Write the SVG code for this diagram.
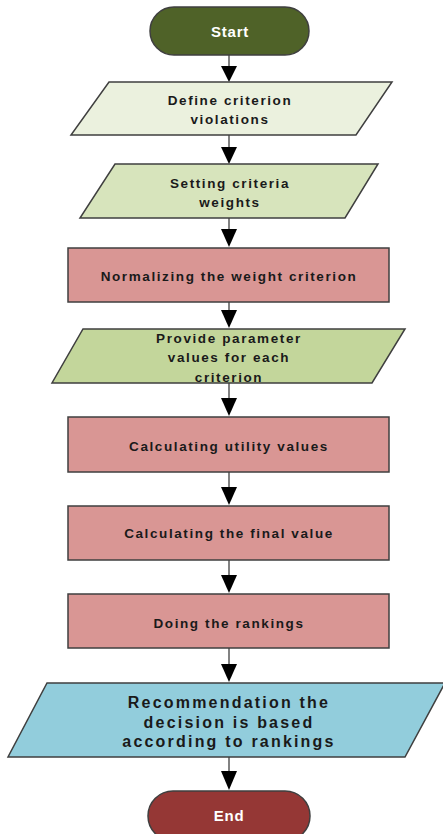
<svg xmlns="http://www.w3.org/2000/svg" width="443" height="834" viewBox="0 0 443 834">
<defs>
<style>
.s{stroke:#3f3f3f;stroke-width:1.5}
.t{font-family:"Liberation Sans",Arial,sans-serif;font-weight:bold;font-size:13.5px;fill:#1a1a1a;text-anchor:middle;dominant-baseline:central;letter-spacing:1.6px}
.w{fill:#ffffff;font-size:15px;letter-spacing:0.8px}
.big{font-size:16px;letter-spacing:2.2px}
.c{stroke:#595959;stroke-width:1.5;fill:none}
.a{fill:#000000}
</style>
</defs>
<rect width="443" height="834" fill="#ffffff"/>
<g id="connectors">
<line class="c" x1="229" y1="55" x2="229" y2="70"/><polygon class="a" points="221,66 237,66 229,82"/>
<line class="c" x1="229" y1="135" x2="229" y2="150"/><polygon class="a" points="221,147 237,147 229,164"/>
<line class="c" x1="229" y1="218" x2="229" y2="232"/><polygon class="a" points="221,229 237,229 229,247"/>
<line class="c" x1="229" y1="302" x2="229" y2="314"/><polygon class="a" points="221,310 237,310 229,328"/>
<line class="c" x1="229" y1="383" x2="229" y2="400"/><polygon class="a" points="221,398 237,398 229,416"/>
<line class="c" x1="229" y1="472" x2="229" y2="490"/><polygon class="a" points="221,487 237,487 229,505"/>
<line class="c" x1="229" y1="560" x2="229" y2="578"/><polygon class="a" points="221,575 237,575 229,593"/>
<line class="c" x1="229" y1="648" x2="229" y2="666"/><polygon class="a" points="221,664 237,664 229,682"/>
<line class="c" x1="229" y1="757" x2="229" y2="774"/><polygon class="a" points="221,771 237,771 229,790"/>
</g>
<g id="start">
<rect class="s" x="150" y="7" width="159" height="48" rx="24" fill="#4f6228"/>
<text class="t w" x="230" y="31">Start</text>
</g>
<g id="define">
<polygon class="s" points="109,82 392,82 356,135 71,135" fill="#ebf1de"/>
<text class="t" x="230" y="100">Define criterion</text>
<text class="t" x="230" y="119">violations</text>
</g>
<g id="setting">
<polygon class="s" points="115,164 378,164 345,218 80,218" fill="#d7e4bc"/>
<text class="t" x="230" y="183">Setting criteria</text>
<text class="t" x="230" y="202">weights</text>
</g>
<g id="normalizing">
<rect class="s" x="68" y="248" width="321" height="54" fill="#d99694"/>
<text class="t" x="229" y="276">Normalizing the weight criterion</text>
</g>
<g id="provide">
<polygon class="s" points="83,329 405,329 372,383 52,383" fill="#c3d69b"/>
<text class="t" x="229" y="338">Provide parameter</text>
<text class="t" x="229" y="357">values for each</text>
<text class="t" x="229" y="377">criterion</text>
</g>
<g id="utility">
<rect class="s" x="68" y="417" width="321" height="55" fill="#d99694"/>
<text class="t" x="229" y="446">Calculating utility values</text>
</g>
<g id="final">
<rect class="s" x="68" y="506" width="321" height="54" fill="#d99694"/>
<text class="t" x="229" y="533">Calculating the final value</text>
</g>
<g id="rankings">
<rect class="s" x="68" y="594" width="321" height="54" fill="#d99694"/>
<text class="t" x="229" y="623">Doing the rankings</text>
</g>
<g id="recommendation">
<polygon class="s" points="47,683 445,683 405,757 8,757" fill="#92cddc"/>
<text class="t big" x="229" y="702">Recommendation the</text>
<text class="t big" x="229" y="722">decision is based</text>
<text class="t big" x="229" y="741">according to rankings</text>
</g>
<g id="end">
<rect class="s" x="148" y="791" width="162" height="50" rx="25" fill="#953735"/>
<text class="t w" x="229" y="815">End</text>
</g>
</svg>
